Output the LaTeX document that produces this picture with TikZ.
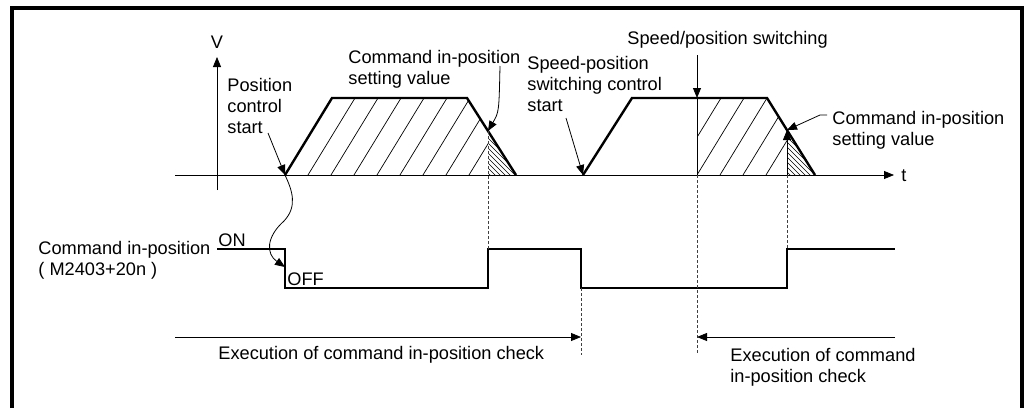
\documentclass[tikz,border=0pt]{standalone}
\usepackage{fontspec}
\setmainfont{Liberation Sans}
\usetikzlibrary{arrows.meta}

\begin{document}
\begin{tikzpicture}[x=0.5pt, y=-0.5pt, font=\fontsize{9.1}{10.5}\selectfont,
		lbl/.style={inner sep=0pt, align=left},
		arr/.style={-{Triangle[length=5pt,width=4pt]}, line width=0.4pt},
		ax/.style={line width=0.45pt},
		trap/.style={line width=1.2pt},
		sig/.style={line width=1.2pt},
		hatch/.style={line width=0.35pt},
		dsh/.style={line width=0.35pt, black!75, dash pattern=on 1.5pt off 1pt},
		frm/.style={line width=2pt}]
		\useasboundingbox (0,0) rectangle (1029,408);
		\draw[frm] (12,408) -- (12,8) -- (1022,8) -- (1022,408);
		% points of the two speed curves
		\coordinate (a1) at (285,175); \coordinate (b1) at (332,98);
		\coordinate (c1) at (467,98);  \coordinate (d1) at (516,175);
		\coordinate (e1) at (488,131);
		\coordinate (a2) at (583,175); \coordinate (b2) at (632,98);
		\coordinate (c2) at (767,98);  \coordinate (d2) at (815,175);
		\coordinate (s2) at (697,98);  \coordinate (e2) at (787,130);
		% hatching
		\begin{scope}
			\clip (a1) -- (b1) -- (c1) -- (e1) -- (488,175) -- cycle;
			\foreach \x in {285,308,...,500} \draw[hatch] (\x,175) -- ++(47,-77);
		\end{scope}
		\begin{scope}
			\clip (e1) -- (d1) -- (488,175) -- cycle;
			\foreach \x in {420,425,...,520} \draw[hatch] (\x,120) -- ++(60,60);
		\end{scope}
		\begin{scope}
			\clip (s2) -- (c2) -- (e2) -- (787,175) -- (697,175) -- cycle;
			\foreach \x in {628,651,...,800} \draw[hatch] (\x,175) -- ++(47,-77);
		\end{scope}
		\begin{scope}
			\clip (e2) -- (d2) -- (787,175) -- cycle;
			\foreach \x in {720,725,...,820} \draw[hatch] (\x,120) -- ++(60,60);
		\end{scope}
		\draw[trap] (a1) -- (b1) -- (c1) -- (d1);
		\draw[trap] (a2) -- (b2) -- (c2) -- (d2);
		\draw[ax] (s2) -- (697,175);
		% axes
		\coordinate (vbot) at (217,190); \coordinate (vtop) at (217,57);
		\coordinate (t0) at (175,175);   \coordinate (t1) at (894,175);
		\draw[arr] (vbot) -- (vtop);
		\draw[arr] (t0) -- (t1);
		\node (vlab) at (217,42) {V};
		\node[lbl, anchor=west] (tlab) at (901,176) {t};
		% labels above the axis
		\node[lbl, anchor=north west] (pcs) at (227,78) {Position\\control\\start};
		\node[lbl, anchor=north west] (cip1) at (348,50) {Command in-position\\setting value};
		\node[lbl, anchor=north west] (spcs) at (527,56) {Speed-position\\switching control\\start};
		\node[lbl, anchor=west] (sps) at (627,40) {Speed/position switching};
		\node[lbl, anchor=north west] (cip2) at (832,111) {Command in-position\\setting value};
		\coordinate (pcs0) at (268,133);
		\coordinate (cip10) at (500,66);
		\coordinate (spcs0) at (566,118);
		\coordinate (sps0) at (697,55);
		\coordinate (cip20) at (827,115);
		\draw[arr] (pcs0) -- (a1);
		\draw[arr] (cip10) .. controls (499,112) .. (e1);
		\draw[arr] (spcs0) -- (a2);
		\draw[arr] (sps0) -- (s2);
		\draw[arr] (cip20) -- (820,115) -- (e2);
		\draw[arr, {Triangle[length=5pt,width=4pt]}-] (e2) -- (787,175);
		% in-position signal
		\node[lbl, anchor=north west] (sig) at (38,241) {Command in-position\\( M2403+20n )};
		\draw[sig] (217,249) -- (285,249) -- (285,288) -- (488,288) -- (488,249)
			-- (581,249) -- (581,288) -- (787,288) -- (787,249) -- (895,249);
		\node[lbl, anchor=west] (on) at (218,240) {ON};
		\node[lbl, anchor=west] (off) at (287,279) {OFF};
		\coordinate (fall1) at (285,267);
		\draw[arr] (a1) .. controls (292,190) and (298,206) .. (284,221)
			.. controls (266,237) and (266,254) .. (fall1);
		% dashed guides
		\draw[dsh] (e1) -- (488,249);
		\draw[dsh] (697,175) -- (697,355);
		\draw[dsh] (787,175) -- (787,249);
		\draw[dsh] (581,288) -- (581,355);
		% check ranges
		\coordinate (x0) at (175,337); \coordinate (x1) at (581,337);
		\coordinate (x2) at (895,337); \coordinate (x3) at (697,337);
		\draw[arr] (x0) -- (x1);
		\draw[arr] (x2) -- (x3);
		\node[lbl, anchor=west] (chk1) at (218,355) {Execution of command in-position check};
		\node[lbl, anchor=north west] (chk2) at (730,348) {Execution of command\\in-position check};
	\end{tikzpicture}
\end{document}
